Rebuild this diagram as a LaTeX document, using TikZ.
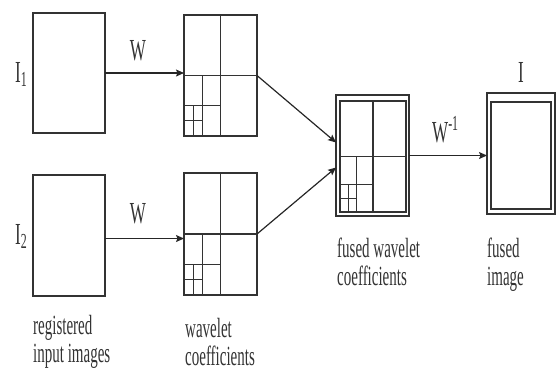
\documentclass[tikz,border=0pt]{standalone}
\usepackage{fontspec}
\setmainfont{Liberation Serif}
\usetikzlibrary{arrows.meta,calc}

\tikzset{
  frame/.style={draw=black!80, line width=1.2bp, inner sep=0pt, outer sep=0pt},
  flow/.style={draw=black!85, line width=1.2bp, -{Stealth[length=8bp,width=7bp,inset=1.5bp]}},
  caption/.style={anchor=north west, align=left, inner sep=0pt, text=black!80,
    font=\fontsize{15bp}{15.1bp}\selectfont, yscale=1.85},
  sym/.style={inner sep=0pt, text=black!80, font=\fontsize{17bp}{18bp}\selectfont, yscale=1.8},
  dwt/.pic={
    \draw[black!80, line width=1.2bp]
      (0,0.5) -- (1,0.5)   (0.5,0) -- (0.5,1)
      (0,0.75) -- (0.5,0.75)   (0.25,0.5) -- (0.25,1)
      (0,0.875) -- (0.25,0.875)   (0.125,0.75) -- (0.125,1);
  }
}

\begin{document}
\begin{tikzpicture}[x=1bp, y=-1bp]
\useasboundingbox (0,0) rectangle (556,371);

% registered input images
\node[frame, minimum width=72bp, minimum height=120bp] (in1) at (69,73) {};
\node[frame, minimum width=72bp, minimum height=121bp] (in2) at (69,235.5) {};

% wavelet coefficient planes
\node[frame, minimum width=73bp, minimum height=121bp] (wav1) at (220.5,75.5) {};
\node[frame, minimum width=73bp, minimum height=122bp] (wav2) at (220.5,234) {};
\begin{scope}[shift={(wav1.north west)}, x=73bp, y=-121bp] \pic {dwt}; \end{scope}
\begin{scope}[shift={(wav2.north west)}, x=73bp, y=-122bp] \pic {dwt}; \end{scope}

% fused wavelet coefficients (double frame)
\node[frame, minimum width=73bp, minimum height=121bp] (fus) at (372.5,155.5) {};
\node[frame, minimum width=66bp, minimum height=111bp] (fusin) at (373,156.5) {};
\begin{scope}[shift={(fusin.north west)}, x=66bp, y=-111bp] \pic {dwt}; \end{scope}

% fused image (double frame)
\node[frame, minimum width=68bp, minimum height=121bp] (out) at (521,153.5) {};
\node[frame, minimum width=60bp, minimum height=107bp] (outin) at (521,155.5) {};

% transforms
\draw[flow] (in1.east) -- (in1.east -| wav1.west);
\draw[flow] ([yshift=-3bp]in2.east) -- ([yshift=-3bp]in2.east -| wav2.west);
\draw[flow] (wav1.east) -- ([yshift=13bp]fus.west);
\draw[flow] (wav2.east) -- ([yshift=-12bp]fus.west);
\draw[flow] (fus.east) -- (fus.east -| out.west);

% symbols
\node[sym, anchor=base west] (i1) at (15,82) {I\textsubscript{1}};
\node[sym, anchor=base west] (i2) at (15,244) {I\textsubscript{2}};
\node[sym, anchor=base] (w1) at (138,60) {W};
\node[sym, anchor=base] (w2) at (138,223) {W};
\node[sym, anchor=base west] (winv) at (432,142) {W\textsuperscript{-1}};
\node[sym, anchor=base] (ifused) at (521,82) {I};

% captions
\node[caption] (c1) at (33,315) {registered\\input images};
\node[caption] (c2) at (185,318) {wavelet\\coefficients};
\node[caption] (c3) at (337,238) {fused wavelet\\coefficients};
\node[caption] (c4) at (487,238) {fused\\image};
\end{tikzpicture}
\end{document}
